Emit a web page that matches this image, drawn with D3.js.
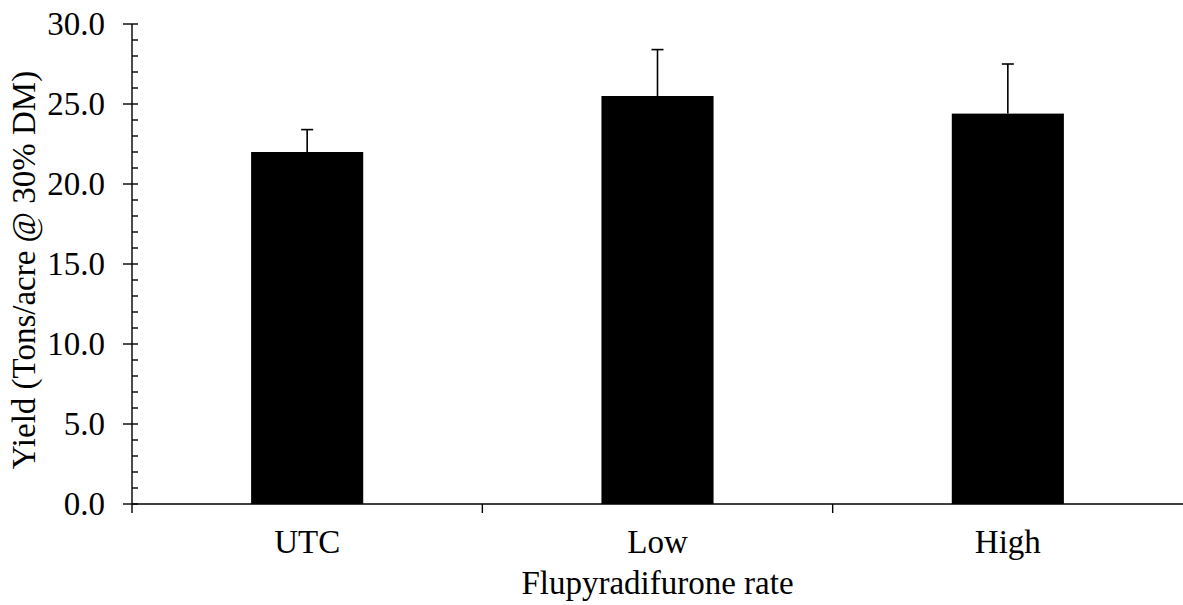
<!DOCTYPE html>
<html>
<head>
<meta charset="utf-8">
<script src="https://cdn.jsdelivr.net/npm/d3@7"></script>
<style>
  html, body { margin: 0; padding: 0; background: #fff; }
  svg { display: block; }
  text { font-family: "Liberation Serif", "Times New Roman", serif; fill: #000; }
</style>
</head>
<body>
<svg id="chart" width="1183" height="605"></svg>
<script>
// Yield by flupyradifurone rate, mean with upper error bar
const categories = ["UTC", "Low", "High"];
const yieldMeans = [22.0, 25.5, 24.4];
const yieldErrors = [1.4, 2.9, 3.1];
const yTickValues = [0, 5, 10, 15, 20, 25, 30];

const svg = d3.select("#chart");
const margin = { left: 132, right: 0, top: 24, bottom: 101 };
const W = 1183, H = 605;

const x = d3.scaleBand()
  .domain(categories)
  .range([margin.left, W - margin.right])
  .paddingInner(0.68)
  .paddingOuter(0.34);

const xOuter = d3.scaleBand()
  .domain(categories)
  .range([margin.left, W - margin.right]);

const y = d3.scaleLinear().domain([0, 30]).range([H - margin.bottom, margin.top]);

const fontSize = 33;

// bars
svg.append("g").selectAll("rect")
  .data(categories)
  .join("rect")
  .attr("x", d => x(d))
  .attr("width", x.bandwidth())
  .attr("y", (d, i) => y(yieldMeans[i]))
  .attr("height", (d, i) => y(0) - y(yieldMeans[i]))
  .attr("fill", "#000");

// error bars (upper only)
const eb = svg.append("g").attr("stroke", "#000").attr("stroke-width", 1.6);
categories.forEach((c, i) => {
  const cx = x(c) + x.bandwidth() / 2;
  eb.append("line")
    .attr("x1", cx).attr("x2", cx)
    .attr("y1", y(yieldMeans[i])).attr("y2", y(yieldMeans[i] + yieldErrors[i]));
  eb.append("line")
    .attr("x1", cx - 6).attr("x2", cx + 6)
    .attr("y1", y(yieldMeans[i] + yieldErrors[i])).attr("y2", y(yieldMeans[i] + yieldErrors[i]));
});

// y axis: minor ticks to the right, major ticks crossing
const yAxisG = svg.append("g").attr("stroke", "#000").attr("stroke-width", 1.4);
yAxisG.append("line")
  .attr("x1", margin.left).attr("x2", margin.left)
  .attr("y1", y(30)).attr("y2", y(0) + 9);
d3.range(0, 31, 1).forEach(v => {
  const major = v % 5 === 0;
  yAxisG.append("line")
    .attr("x1", major ? margin.left - 9 : margin.left)
    .attr("x2", margin.left + 6)
    .attr("y1", y(v)).attr("y2", y(v));
});
svg.append("g").selectAll("text")
  .data(yTickValues)
  .join("text")
  .attr("x", 105)
  .attr("y", d => y(d))
  .attr("dy", "0.34em")
  .attr("text-anchor", "end")
  .attr("font-size", fontSize)
  .text(d => d3.format(".1f")(d));

// x axis
const xAxisG = svg.append("g").attr("stroke", "#000").attr("stroke-width", 1.4);
xAxisG.append("line")
  .attr("x1", margin.left).attr("x2", W)
  .attr("y1", y(0)).attr("y2", y(0));
categories.slice(1).forEach(c => {
  xAxisG.append("line")
    .attr("x1", xOuter(c)).attr("x2", xOuter(c))
    .attr("y1", y(0)).attr("y2", y(0) + 9);
});
svg.append("g").selectAll("text")
  .data(categories)
  .join("text")
  .attr("x", d => xOuter(d) + xOuter.bandwidth() / 2)
  .attr("y", 553)
  .attr("text-anchor", "middle")
  .attr("font-size", fontSize)
  .text(d => d);

// axis titles
svg.append("text")
  .attr("x", (margin.left + W) / 2)
  .attr("y", 594)
  .attr("text-anchor", "middle")
  .attr("font-size", fontSize)
  .text("Flupyradifurone rate");

svg.append("text")
  .attr("transform", `translate(35, 270) rotate(-90)`)
  .attr("text-anchor", "middle")
  .attr("font-size", fontSize)
  .text("Yield (Tons/acre @ 30% DM)");
</script>
</body>
</html>
